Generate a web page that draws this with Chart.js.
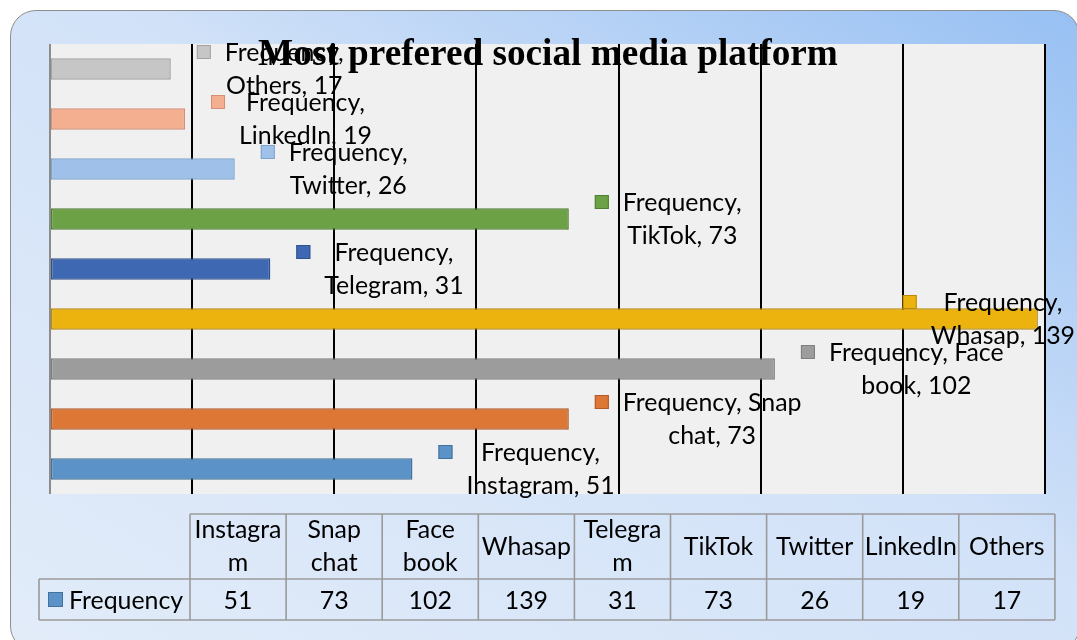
<!DOCTYPE html>
<html>
<head>
<meta charset="utf-8">
<script src="https://cdn.jsdelivr.net/npm/chart.js@4/dist/chart.umd.min.js"></script>
<style>
  html,body{margin:0;padding:0;background:#fff;width:1077px;height:640px;overflow:hidden;}
  #frame{position:absolute;left:10px;top:10px;width:1068px;height:640px;border:1px solid #8e8e8e;border-radius:26px;
    background:linear-gradient(to bottom left,#97c0f3 0%,#d2e2f8 45%,#e2ecf9 100%);}
  #c{position:absolute;left:0;top:0;}
</style>
</head>
<body>
<div id="frame"></div>
<canvas id="c" width="1077" height="640"></canvas>
<script>
// ---- data ----
const titleText = 'Most prefered social media platform';
const seriesName = 'Frequency';
const categories = ['Instagram', 'Snap chat', 'Face book', 'Whasap', 'Telegram', 'TikTok', 'Twitter', 'LinkedIn', 'Others'];
const frequency = [51, 73, 102, 139, 31, 73, 26, 19, 17];
const axisMin = 0;
const axisMax = 140;
const axisStep = 20;

// ---- styles ----
const barColors = ['#5B93C9', '#DD7735', '#9C9C9C', '#ECB30E', '#3E69B2', '#6DA145', '#9FC0E8', '#F4AE90', '#C6C6C6'];
const barBorders = ['#41719C', '#B0592A', '#7E7E7E', '#B98A06', '#2F528F', '#507E32', '#7FA3CF', '#D48F75', '#A3A3A3'];
const FONT = 'Lato, "Open Sans", sans-serif';
const SERIF = '"Liberation Serif", "Times New Roman", serif';

const canvas = document.getElementById('c');
const mctx = canvas.getContext('2d');
mctx.font = '100px ' + FONT;
const bodySize = 100 * 119 / mctx.measureText('Frequency,').width;
mctx.font = 'bold 100px ' + SERIF;
const titleSize = 100 * 580 / mctx.measureText(titleText).width;

function wrapWords(ctx, text, maxW) {
  const words = text.split(' ');
  const lines = [];
  let cur = '';
  for (const w of words) {
    const t = cur ? cur + ' ' + w : w;
    if (ctx.measureText(t).width <= maxW || !cur) cur = t; else { lines.push(cur); cur = w; }
  }
  if (cur) lines.push(cur);
  return lines;
}
function wrapCell(ctx, text, maxW) {
  const out = [];
  for (const line of wrapWords(ctx, text, maxW)) {
    if (ctx.measureText(line).width <= maxW) { out.push(line); continue; }
    let cur = '';
    for (const ch of line) {
      if (ctx.measureText(cur + ch).width > maxW && cur) { out.push(cur); cur = ch; } else cur += ch;
    }
    if (cur) out.push(cur);
  }
  return out;
}

const plotBg = {
  id: 'plotBg',
  beforeDraw(chart) {
    const {ctx, chartArea: a} = chart;
    ctx.save();
    ctx.fillStyle = '#F0F0F0';
    ctx.fillRect(a.left, a.top, a.right - a.left, a.bottom - a.top);
    ctx.restore();
  }
};

const dataLabels = {
  id: 'dataLabels',
  afterDatasetsDraw(chart) {
    const ctx = chart.ctx;
    const meta = chart.getDatasetMeta(0);
    ctx.save();
    ctx.font = bodySize + 'px ' + FONT;
    ctx.textBaseline = 'middle';
    ctx.textAlign = 'center';
    meta.data.forEach((bar, i) => {
      const txt = seriesName + ', ' + categories[i] + ', ' + frequency[i];
      const lines = wrapWords(ctx, txt, 185);
      const tw = Math.max(...lines.map(l => ctx.measureText(l).width));
      let left = bar.x + 26;
      if (left + 28 + tw > 1075) left = 1075 - 28 - tw;
      const cy = bar.y;
      ctx.fillStyle = barColors[i];
      ctx.strokeStyle = barBorders[i];
      ctx.lineWidth = 1;
      ctx.fillRect(left, cy - 24, 14, 14);
      ctx.strokeRect(left + 0.5, cy - 23.5, 13, 13);
      ctx.fillStyle = '#000';
      const tx = left + 28 + tw / 2;
      lines.forEach((l, k) => ctx.fillText(l, tx, cy - 16 + k * 32.5));
    });
    ctx.restore();
  }
};

const tableAndTitle = {
  id: 'tableAndTitle',
  afterDraw(chart) {
    const ctx = chart.ctx;
    ctx.save();
    // data table
    const legL = 39, colL = 190, colW = 96.1, top = 514, mid = 579, bot = 620;
    const colR = colL + colW * categories.length;
    ctx.strokeStyle = '#9A9A9A';
    ctx.lineWidth = 1.6;
    ctx.beginPath();
    ctx.moveTo(colL, top); ctx.lineTo(colR, top);
    ctx.moveTo(legL, mid); ctx.lineTo(colR, mid);
    ctx.moveTo(legL, bot); ctx.lineTo(colR, bot);
    ctx.moveTo(legL, mid); ctx.lineTo(legL, bot);
    for (let k = 0; k <= categories.length; k++) {
      const x = colL + k * colW;
      ctx.moveTo(x, top); ctx.lineTo(x, bot);
    }
    ctx.stroke();
    ctx.font = bodySize + 'px ' + FONT;
    ctx.fillStyle = '#000';
    ctx.textAlign = 'center';
    ctx.textBaseline = 'middle';
    categories.forEach((c, k) => {
      const cx = colL + k * colW + colW / 2;
      const lines = wrapCell(ctx, c, colW - 1);
      const cy = (top + mid) / 2 - (lines.length - 1) * 16.5;
      lines.forEach((l, j) => ctx.fillText(l, cx, cy + j * 33));
      ctx.fillText(String(frequency[k]), cx, (mid + bot) / 2 + 1);
    });
    ctx.fillStyle = barColors[0];
    ctx.strokeStyle = barBorders[0];
    ctx.lineWidth = 1;
    ctx.fillRect(48, 592, 15, 15);
    ctx.strokeRect(48.5, 592.5, 14, 14);
    ctx.fillStyle = '#000';
    ctx.textAlign = 'left';
    ctx.fillText(seriesName, 69, (mid + bot) / 2 + 1);
    // title on top
    ctx.font = 'bold ' + titleSize + 'px ' + SERIF;
    ctx.textAlign = 'center';
    ctx.textBaseline = 'alphabetic';
    ctx.fillStyle = '#000';
    ctx.fillText(titleText, 548, 65);
    ctx.restore();
  }
};

new Chart(canvas, {
  type: 'bar',
  data: {
    labels: categories,
    datasets: [{
      label: seriesName,
      data: frequency,
      backgroundColor: barColors,
      borderColor: barBorders,
      borderWidth: 1.5,
      borderSkipped: false,
      barPercentage: 0.43,
      categoryPercentage: 1
    }]
  },
  options: {
    indexAxis: 'y',
    responsive: false,
    devicePixelRatio: 1,
    animation: false,
    layout: {padding: {left: 50, top: 44, right: 32, bottom: 146}},
    plugins: {legend: {display: false}, title: {display: false}, tooltip: {enabled: false}},
    scales: {
      x: {
        min: axisMin, max: axisMax,
        ticks: {display: false, stepSize: axisStep},
        grid: {color: c => (c.tick && c.tick.value === axisMin) ? '#8C8C8C' : '#000', lineWidth: 2, drawTicks: false},
        border: {display: false}
      },
      y: {
        reverse: true,
        ticks: {display: false},
        grid: {display: false, drawTicks: false},
        border: {display: false}
      }
    }
  },
  plugins: [plotBg, dataLabels, tableAndTitle]
});
</script>
</body>
</html>
